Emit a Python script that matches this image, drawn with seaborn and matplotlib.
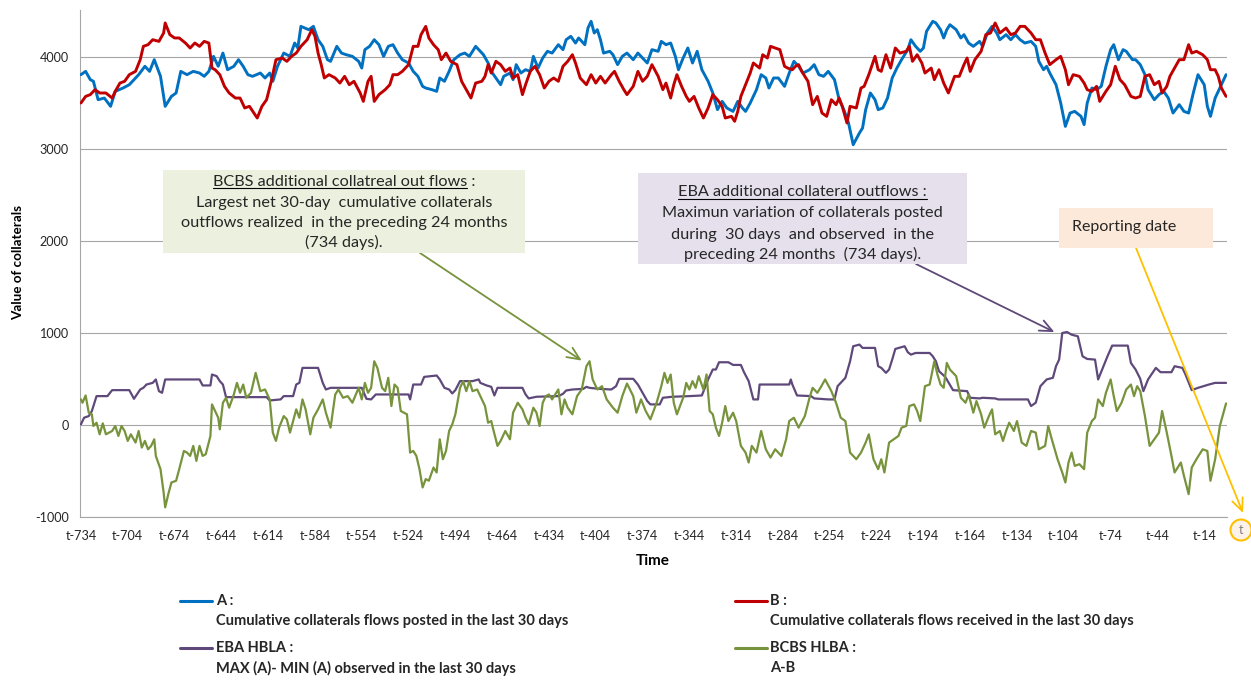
import matplotlib
matplotlib.use("Agg")
import matplotlib.pyplot as plt
import pandas as pd
import seaborn as sns
from matplotlib.patches import Rectangle, Circle
from matplotlib.lines import Line2D
from matplotlib.transforms import IdentityTransform

# ---------------- data (day index 0 = t-734 ... 734 = t) ----------------
a_day = [0, 3, 6, 8, 11, 15, 19, 22, 27, 31, 37, 41, 44, 47, 51, 53, 54, 58, 61, 64, 68, 72, 76, 79, 82,
         85, 88, 91, 94, 98, 101, 104, 107, 110, 115, 118, 121, 123, 126, 130, 134, 137, 139, 141, 146, 149,
         152, 155, 158, 160, 164, 167, 170, 174, 178, 180, 182, 185, 188, 191, 194, 197, 200, 203, 206, 210,
         213, 216, 219, 221, 225, 228, 230, 233, 236, 239, 243, 246, 249, 253,
         258, 261, 263, 266, 269, 271, 275, 277, 279, 282, 285, 288, 290, 293, 296, 299, 302, 306, 309, 311,
         314, 317, 319, 323, 325, 327, 329, 331, 333, 335, 339, 341, 344, 347, 350, 354, 357, 360, 363, 366,
         370, 372, 375, 378, 381, 383, 386, 389, 392, 395, 398, 402, 405, 408, 411, 414, 418, 421, 424, 426,
         429, 433, 436, 439, 441, 444, 447, 451, 454, 457, 460, 463, 467, 470, 473, 476, 479, 483, 486, 489,
         492, 495, 499, 501, 503, 506, 509, 511,
         514, 517, 520, 523, 526, 530, 532, 535, 538, 540, 542, 546, 548, 551, 553, 555, 557, 561, 564, 566,
         569, 572, 576, 578, 581, 584, 587, 589, 593, 596, 599, 602, 605, 609, 612, 614, 617, 619, 621, 625,
         628, 631, 634, 637, 641, 643, 645, 648, 651, 654, 657, 660, 662, 665, 668, 670, 674, 676, 679, 682,
         684, 688, 691, 694, 697, 700, 704, 707, 710, 713, 716, 720, 722, 724, 727, 730, 734]
a_val = [3808, 3844, 3754, 3736, 3536, 3554, 3464, 3627, 3663, 3699, 3808, 3899, 3844, 3971, 3790, 3572, 3464,
         3572, 3609, 3844, 3808, 3844, 3826, 3790, 3844, 4007, 3899, 4043, 3862, 3899, 3971, 3899, 3808, 3790,
         3826, 3772, 3826, 3736, 3899, 4043, 4007, 4152, 4098, 4333, 4297, 4333, 4188, 4116, 3971, 3953, 4116,
         4043, 4025, 4007, 3953, 3880, 4080, 4116, 4188, 4134, 4007, 4116, 4134, 4043, 3971, 3935, 3844, 3790,
         3681, 3663, 3645, 3627, 3772, 3736, 3844, 3971, 4025, 4043, 4007, 4116,
         4025, 3935, 3844, 3772, 3699, 3790, 3826, 3754, 3917, 3826, 3862, 3844, 4007, 3880, 3989, 4062, 4043,
         4134, 4080, 4188, 4225, 4152, 4207, 4134, 4315, 4388, 4261, 4297, 4188, 4043, 4062, 4025, 3917, 4007,
         4043, 3971, 4043, 3989, 3935, 4080, 4062, 4170, 4134, 4152, 4007, 3862, 3989, 4098, 3935, 4062, 3862,
         3736, 3609, 3428, 3518, 3446, 3409, 3518, 3446, 3409, 3500, 3645, 3808, 3772, 3663, 3772, 3772, 3681,
         3826, 3953, 3899, 3826, 3862, 3917, 3808, 3790, 3844, 3754, 3536, 3428, 3283, 3047, 3174, 3228, 3428,
         3609, 3536, 3428,
         3446, 3554, 3772, 3880, 3971, 4080, 4188, 4116, 4062, 4098, 4279, 4388, 4370, 4297, 4207, 4297, 4351,
         4297, 4207, 4243, 4152, 4116, 4170, 4116, 4261, 4333, 4261, 4188, 4243, 4188, 4243, 4188, 4152, 4170,
         4116, 3953, 3862, 3899, 3826, 3699, 3500, 3246, 3391, 3409, 3355, 3265, 3500, 3663, 3645, 3681, 3899,
         4080, 4134, 3971, 4080, 4062, 3971, 3971, 3917, 3808, 3645, 3536, 3591, 3627, 3554, 3391, 3482, 3409,
         3391, 3609, 3808, 3699, 3464, 3355, 3554, 3663, 3808]

b_day = [0, 3, 6, 9, 12, 16, 20, 22, 25, 28, 31, 35, 38, 40, 43, 46, 50, 53, 54, 57, 60, 63, 67, 70, 73, 76,
         79, 82, 84, 86, 89, 92, 95, 99, 102, 105, 108, 113, 116, 119, 122, 125, 129, 132, 135, 138, 141, 145,
         148, 150, 152, 154, 156, 159, 163, 166, 169, 172, 175, 179, 181, 184, 186, 188, 191, 195, 198, 200,
         203, 206, 210, 213, 216, 218, 221, 223, 226, 229, 231, 234, 237, 241, 244, 247, 250, 253,
         257, 259, 261, 263, 266, 269, 272, 275, 277, 280, 283, 285, 288, 291, 294, 297, 300, 303, 306, 309,
         312, 315, 317, 320, 324, 327, 330, 333, 336, 340, 342, 345, 348, 350, 354, 357, 360, 363, 366, 370,
         373, 375, 378, 380, 382, 385, 388, 390, 393, 396, 399, 402, 405, 408, 411, 413, 417, 419, 421, 423,
         426, 429, 431, 435, 437, 440, 442, 445, 448, 451, 453, 456, 458, 460, 462, 466, 469, 472, 475, 478,
         481, 484, 486, 488, 491, 493, 497, 500, 502, 505, 509, 511,
         513, 516, 519, 522, 525, 529, 531, 533, 536, 539, 541, 545, 547, 550, 553, 556, 560, 563, 566, 568,
         570, 573, 577, 580, 583, 586, 589, 593, 596, 599, 602, 605, 609, 612, 615, 618, 621, 625, 628, 631,
         633, 636, 640, 643, 645, 648, 651, 653, 657, 660, 663, 666, 669, 673, 676, 679, 682, 685, 688, 691,
         693, 696, 698, 701, 704, 707, 710, 712, 715, 719, 722, 724, 727, 729, 731, 734]
b_val = [3500, 3572, 3591, 3645, 3609, 3609, 3554, 3627, 3717, 3736, 3808, 3844, 3971, 4116, 4134, 4188, 4170,
         4261, 4370, 4243, 4207, 4207, 4152, 4098, 4152, 4116, 4170, 4152, 3880, 3862, 3808, 3681, 3609, 3554,
         3554, 3446, 3464, 3337, 3464, 3536, 3736, 3971, 3989, 3953, 4007, 4043, 4116, 4188, 4297, 4225, 4043,
         3917, 3772, 3808, 3772, 3717, 3790, 3699, 3736, 3609, 3518, 3736, 3790, 3518, 3591, 3645, 3699, 3808,
         3808, 3844, 3917, 4116, 4116, 4243, 4333, 4207, 4134, 4080, 3971, 4043, 3953, 3917, 3736, 3645, 3554,
         3717,
         3736, 3790, 3917, 3826, 3953, 3917, 3844, 3880, 3772, 3808, 3591, 3699, 3844, 3899, 3808, 3663, 3736,
         3772, 3736, 3899, 3953, 4025, 3935, 3772, 3699, 3808, 3717, 3790, 3717, 3808, 3844, 3736, 3645, 3591,
         3681, 3844, 3736, 3790, 3917, 3790, 3645, 3717, 3554, 3699, 3808, 3681, 3572, 3518, 3572, 3446, 3337,
         3446, 3591, 3536, 3464, 3337, 3355, 3301, 3409, 3572, 3699, 3826, 3935, 3880, 4025, 3989, 4116, 4098,
         4080, 3899, 3880, 3862, 3899, 3917, 3844, 3736, 3482, 3572, 3391, 3355, 3536, 3482, 3554, 3464, 3283,
         3464, 3446, 3663, 3681, 3808, 4007, 3862,
         3844, 4025, 3880, 4098, 4043, 4062, 4116, 3953, 4025, 3935, 3826, 3880, 3754, 3862, 3717, 3609, 3790,
         3790, 3917, 3989, 3844, 3971, 4062, 4243, 4261, 4370, 4261, 4315, 4243, 4261, 4333, 4333, 4261, 4188,
         4188, 4043, 3917, 3971, 4007, 3862, 3699, 3808, 3790, 3717, 3645, 3627, 3681, 3518, 3627, 3699, 3899,
         3754, 3699, 3572, 3554, 3572, 3790, 3808, 3699, 3736, 3609, 3681, 3790, 3880, 3971, 3971, 4134, 4043,
         4062, 4025, 3971, 3862, 3862, 3790, 3663, 3572]

eba_day = [0, 2, 5, 7, 10, 17, 20, 31, 34, 38, 40, 42, 46, 48, 50, 52, 54, 76, 78, 83, 84, 87, 89, 91, 93,
           119, 121, 128, 130, 136, 138, 140, 142, 152, 155, 157, 160, 180, 183, 186, 189, 210, 211, 213, 218,
           220, 228, 230, 233, 236, 238, 240, 243, 251, 255,
           256, 260, 263, 265, 267, 283, 285, 287, 292, 306, 309, 311, 315, 322, 324, 326, 332, 340, 343, 345,
           354, 357, 360, 363, 365, 371, 373, 379, 390, 398, 402, 404, 405, 407, 409, 415, 418, 423, 425, 428,
           431, 434, 435, 454, 455, 456, 459, 468, 470, 479, 483, 485, 488, 490, 493, 495, 499, 501, 509, 511,
           513, 516, 518, 520, 522, 528, 530, 532, 535, 544, 546, 548, 550, 554, 559, 568, 570, 576, 578, 586,
           588, 607, 609, 612, 615, 619, 623, 625, 627, 629, 632, 635, 639, 642, 645, 650, 652, 655, 658, 661,
           671, 673, 676, 679, 681, 684, 689, 692, 699, 701, 706, 708, 712, 716, 723, 727, 734]
eba_val = [7, 79, 97, 152, 314, 314, 379, 379, 285, 386, 404, 440, 458, 495, 368, 350, 495, 495, 430, 430,
           549, 531, 477, 440, 303, 303, 267, 278, 314, 314, 440, 458, 621, 621, 458, 386, 404, 404, 285, 278,
           332, 332, 278, 440, 440, 523, 538, 495, 404, 386, 343, 379, 477, 477, 495,
           458, 430, 415, 321, 404, 404, 332, 289, 307, 314, 339, 375, 386, 393, 415, 404, 393, 386, 422, 502,
           502, 440, 350, 260, 224, 224, 296, 307, 314, 321, 495, 567, 603, 603, 682, 682, 653, 653, 574, 477,
           278, 278, 440, 440, 495, 440, 321, 314, 289, 278, 278, 422, 477, 513, 693, 856, 874, 838, 838, 639,
           621, 567, 603, 711, 827, 856, 791, 765, 783, 783, 747, 693, 585, 523, 379, 368, 296, 289, 296, 289,
           278, 278, 206, 242, 422, 495, 513, 639, 711, 1000, 1011, 982, 964, 747, 718, 711, 495, 621, 747, 863,
           863, 675, 603, 502, 368, 495, 621, 574, 574, 639, 621, 549, 379, 404, 440, 458, 458]

bcbs_day = [0, 1, 3, 5, 7, 8, 10, 12, 14, 16, 20, 22, 24, 26, 28, 30, 32, 35, 37, 39, 41, 43, 45, 47, 48,
            51, 53, 54, 56, 58, 61, 63, 66, 68, 70, 72, 74, 76, 78, 80, 83, 84, 86, 88, 89, 91, 93, 95, 98,
            100, 102, 104, 106, 109, 112, 115, 118, 121, 123, 125, 127, 130, 132, 134, 136, 138, 140, 142, 144,
            147, 149, 152, 155, 157, 160, 163, 165, 168, 171, 174, 178, 180, 182, 184, 186, 188, 190, 193, 195,
            197, 199, 201, 203, 205, 209, 211, 213, 215, 217, 219, 221, 223, 226, 228, 230, 232, 234, 236, 238,
            240, 243, 245, 247, 249, 251, 254,
            259, 261, 263, 264, 267, 269, 272, 275, 277, 280, 283, 285, 287, 290, 292, 294, 296, 298, 300, 302,
            306, 308, 310, 312, 315, 318, 321, 324, 326, 328, 331, 334, 337, 341, 344, 347, 350, 354, 356, 359,
            362, 365, 369, 372, 374, 376, 378, 380, 382, 386, 388, 390, 392, 394, 396, 399, 401, 403, 405, 407,
            409, 411, 413, 415, 418, 420, 423, 426, 428, 430, 433, 436, 439, 442, 445, 449, 452, 454, 457, 460,
            464, 467, 469, 472, 474, 477, 481, 484, 487, 490, 493, 497, 500, 503, 505, 508, 511,
            513, 515, 518, 521, 524, 526, 529, 531, 534, 536, 538, 541, 544, 547, 549, 551, 553, 555, 557, 561,
            564, 567, 569, 572, 574, 577, 579, 582, 584, 586, 589, 591, 593, 595, 598, 600, 603, 606, 609, 612,
            614, 618, 620, 622, 626, 629, 631, 633, 635, 637, 640, 643, 645, 648, 650, 652, 655, 657, 660, 662,
            664, 667, 670, 673, 675, 677, 679, 682, 685, 688, 691, 693, 696, 699, 701, 705, 707, 710, 712, 715,
            719, 722, 724, 727, 730, 734]
bcbs_val = [278, 242, 321, 134, 116, -11, 25, -101, 18, -101, -65, -11, -119, -11, -65, -173, -101, -191, -65,
            -245, -173, -264, -227, -155, -336, -480, -733, -895, -751, -625, -606, -480, -282, -300, -336,
            -227, -390, -227, -336, -318, -119, 224, 152, 79, -47, 242, 296, 188, 332, 458, 350, 440, 296, 350,
            567, 368, 386, 278, -83, -173, -29, 97, 61, -83, 43, 170, 79, 278, 170, -101, 79, 170, 278, 134,
            -29, 332, 386, 296, 314, 242, 404, 278, 458, 350, 404, 693, 621, 404, 368, 513, 206, 440, 404, 152,
            116, -300, -282, -336, -480, -679, -588, -606, -462, -516, -155, -372, -282, -65, 7, 116, 404, 477,
            368, 477, 368, 386,
            206, 25, 43, -29, -227, -173, -65, -155, 134, 242, 170, 79, 7, 188, 134, -11, 242, 314, 332, 278,
            386, 116, 278, 188, 116, 314, 386, 639, 693, 495, 386, 422, 278, 188, 134, 314, 451, 314, 134, 278,
            152, 61, 242, 422, 567, 458, 549, 242, 116, 296, 458, 386, 477, 404, 531, 386, 549, 152, 116, -29,
            -119, 25, 206, 43, 134, 43, -227, -300, -408, -227, -300, -65, -264, -354, -264, -336, -155, 43, 79,
            -29, 97, 296, 404, 350, 404, 495, 368, 242, 79, 43, -300, -372, -300, -191, -101, -372, -480,
            -372, -516, -191, -155, -119, -29, -11, 206, 224, 152, 43, 422, 440, 693, 549, 440, 404, 675, 603,
            531, 296, 242, 332, 134, 260, 116, -29, 97, 170, -101, -65, -173, -65, 25, -65, 43, -191, -227, -65,
            -83, -264, -227, -11, -137, -372, -516, -625, -408, -300, -444, -426, -480, -83, 43, 79, 278, 206,
            350, 495, 314, 152, 242, 386, 440, 314, 422, 368, 97, -227, -155, -83, 152, -83, -336, -516, -408,
            -552, -751, -462, -372, -264, -282, -606, -372, -11, 235]

x_tick_labels = ["t-734", "t-704", "t-674", "t-644", "t-614", "t-584", "t-554", "t-524", "t-494",
                 "t-464", "t-434", "t-404", "t-374", "t-344", "t-314", "t-284", "t-254", "t-224",
                 "t-194", "t-164", "t-134", "t-104", "t-74", "t-44", "t-14"]
y_ticks = [-1000, 0, 1000, 2000, 3000, 4000]

series_names = ["A", "B", "EBA HBLA", "BCBS HLBA"]
colors = {"A": "#0070C0", "B": "#C00000", "EBA HBLA": "#5F497A", "BCBS HLBA": "#77933C"}
widths = {"A": 2.1, "B": 2.1, "EBA HBLA": 1.6, "BCBS HLBA": 1.6}

df = pd.concat([
    pd.DataFrame({"day": a_day, "value": a_val, "series": "A"}),
    pd.DataFrame({"day": b_day, "value": b_val, "series": "B"}),
    pd.DataFrame({"day": eba_day, "value": eba_val, "series": "EBA HBLA"}),
    pd.DataFrame({"day": bcbs_day, "value": bcbs_val, "series": "BCBS HLBA"}),
], ignore_index=True)

# ---------------- figure ----------------
sns.set_style("white")
plt.rcParams['font.family'] = ['Lato', 'DejaVu Sans']

W, H = 1251, 680
fig = plt.figure(figsize=(W / 100, H / 100), dpi=100)
fig.patch.set_facecolor("white")
ax = fig.add_axes([80 / W, 1 - 517 / H, (1227 - 80) / W, (517 - 10) / H])
renderer = fig.canvas.get_renderer()


def fx(px):
    return px / W


def fy(py):
    return 1 - py / H


def text_width(s, size, weight="normal"):
    t = fig.text(0, 0, s, fontsize=size, fontweight=weight)
    w = t.get_window_extent(renderer).width
    t.remove()
    return w


def fit(s, target, weight="normal"):
    return 10 * target / text_width(s, 10, weight)


for name in series_names:
    sns.lineplot(data=df[df["series"] == name], x="day", y="value", color=colors[name],
                 lw=widths[name], estimator=None, sort=False, ax=ax, legend=False, zorder=3)

ax.set_xlim(-0.6, 734.6)
ax.set_ylim(-1000, 4511)
ax.set_yticks(y_ticks)
tick_pos = [734 - int(l[2:]) for l in x_tick_labels]
tick_fs = fit("t-734", 31)
ax.set_xticks(tick_pos)
ax.set_xticklabels(x_tick_labels, fontsize=tick_fs, color="#262626")
ax.set_yticklabels([str(v) for v in y_ticks], fontsize=tick_fs, color="#262626")
ax.set_xlabel("")
ax.set_ylabel("")
ax.yaxis.grid(True, color="#A6A6A6", lw=0.8)
ax.xaxis.grid(False)
ax.set_axisbelow(True)
for s in ["top", "right"]:
    ax.spines[s].set_visible(False)
for s in ["left", "bottom"]:
    ax.spines[s].set_color("#A6A6A6")
    ax.spines[s].set_linewidth(0.8)
ax.tick_params(axis="y", length=5, color="#A6A6A6", width=0.8, pad=3)
ax.tick_params(axis="x", length=0, pad=9)

# axis titles
lab_fs = fit("Cumulative collaterals flows received in the last 30 days", 366, "bold")
fig.text(fx(18), fy(263), "Value of collaterals", rotation=90, ha="center", va="center",
         fontsize=lab_fs * 0.92, fontweight="bold", color="#000000")
fig.text(fx(653), fy(561), "Time", ha="center", va="center",
         fontsize=fit("Time", 34, "bold"), fontweight="bold", color="#000000")

# ---------------- annotation boxes ----------------
def box(x0, y0, x1, y1, fc):
    fig.add_artist(Rectangle((fx(x0), fy(y1)), (x1 - x0) / W, (y1 - y0) / H,
                             transform=fig.transFigure, facecolor=fc, edgecolor="none", zorder=3))


def underline_title(cx, base, full, under, fs):
    t = fig.text(fx(cx), fy(base), full, ha="center", va="baseline", fontsize=fs, zorder=4)
    bb = t.get_window_extent(renderer)
    wu = text_width(under, fs)
    y = bb.y0 + (bb.height * 0.0)
    # baseline in pixels
    ybase = H - base - 2
    fig.add_artist(Line2D([fx(bb.x0), fx(bb.x0 + wu)], [ybase / H, ybase / H],
                          transform=fig.transFigure, color="black", lw=0.8, zorder=4))


box(163, 170, 525, 253, "#EBF1DE")
bc_fs = fit("Largest net 30-day  cumulative collaterals", 297)
underline_title(344, 186, "BCBS additional collatreal out flows :", "BCBS additional collatreal out flows", bc_fs)
for yb, s in [(206.5, "Largest net 30-day  cumulative collaterals"),
              (227, "outflows realized  in the preceding 24 months"),
              (247.5, "(734 days).")]:
    fig.text(fx(344), fy(yb), s, ha="center", va="baseline", fontsize=bc_fs, zorder=4)

box(638, 173, 967, 264, "#E5E0EC")
eb_fs = fit("Maximun variation of collaterals posted", 282)
underline_title(802.5, 196.5, "EBA additional collateral outflows :", "EBA additional collateral outflows :", eb_fs)
for yb, s in [(217.5, "Maximun variation of collaterals posted"),
              (238.5, "during  30 days  and observed  in the"),
              (259, "preceding 24 months  (734 days).")]:
    fig.text(fx(802.5), fy(yb), s, ha="center", va="baseline", fontsize=eb_fs, zorder=4)

box(1059, 208, 1213, 248, "#FDE9D9")
fig.text(fx(1072), fy(231), "Reporting date", ha="left", va="baseline",
         fontsize=fit("Reporting date", 105), zorder=4)

arrow = "->,head_length=0.9,head_width=0.4"
ax.annotate("", xy=(321, 700), xycoords="data", xytext=(420, H - 253), textcoords="figure pixels",
            arrowprops=dict(arrowstyle=arrow, color="#77933C", lw=1.3, shrinkA=0, shrinkB=0),
            annotation_clip=False)
ax.annotate("", xy=(624, 1010), xycoords="data", xytext=(916, H - 264), textcoords="figure pixels",
            arrowprops=dict(arrowstyle=arrow, color="#5F497A", lw=1.3, shrinkA=0, shrinkB=0),
            annotation_clip=False)
ax.annotate("", xy=(1243, H - 513), xycoords="figure pixels", xytext=(1136, H - 248),
            textcoords="figure pixels",
            arrowprops=dict(arrowstyle=arrow, color="#FFC000", lw=1.3, shrinkA=0, shrinkB=0),
            annotation_clip=False)

# reporting date marker "t"
fig.add_artist(Circle((1241, H - 530), 10.5, transform=IdentityTransform(),
                      facecolor="#FDF2EA", edgecolor="#FFC000", lw=1.5, zorder=5))
fig.text(fx(1241), fy(530), "t", ha="center", va="center", fontsize=tick_fs, color="#7F7F7F", zorder=6)

# ---------------- legend ----------------
leg_fs = lab_fs
entries = [
    (180, 212, 216, 601, "A", "A :", "Cumulative collaterals flows posted in the last 30 days"),
    (735, 767, 770, 601, "B", "B :", "Cumulative collaterals flows received in the last 30 days"),
    (180, 212, 216, 648, "EBA HBLA", "EBA HBLA :", "MAX (A)- MIN (A) observed in the last 30 days"),
    (735, 767, 770, 648, "BCBS HLBA", "BCBS HLBA :", "A-B"),
]
for x0, x1, xt, yy, key, l1, l2 in entries:
    fig.add_artist(Line2D([fx(x0), fx(x1)], [fy(yy), fy(yy)], transform=fig.transFigure,
                          color=colors[key], lw=2.2))
    fig.text(fx(xt), fy(yy), l1, ha="left", va="center", fontsize=leg_fs, fontweight="bold")
    fig.text(fx(xt), fy(yy + 20), l2, ha="left", va="center", fontsize=leg_fs, fontweight="bold")

fig.savefig("out.png", dpi=100)
